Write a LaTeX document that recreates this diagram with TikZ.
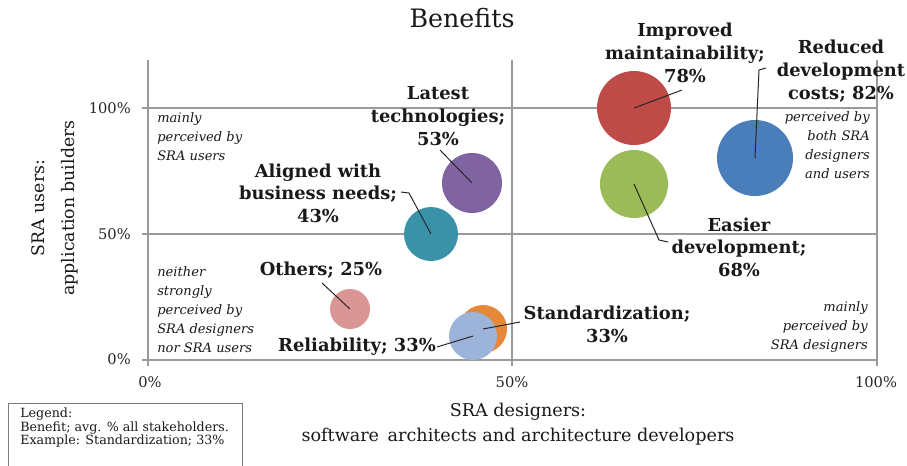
\documentclass[tikz,border=0pt]{standalone}
\usepackage{fontspec}
\setmainfont{DejaVu Serif}
\usetikzlibrary{positioning}

\definecolor{maintred}{HTML}{BE4B48}
\definecolor{easygreen}{HTML}{9BBB59}
\definecolor{costblue}{HTML}{4A7EBB}
\definecolor{techpurple}{HTML}{8064A2}
\definecolor{alignteal}{HTML}{3A92A9}
\definecolor{othpink}{HTML}{D99694}
\definecolor{stdorange}{HTML}{E5883A}
\definecolor{relblue}{HTML}{9DB4DA}
\definecolor{gridgray}{HTML}{9A9A9A}

\begin{document}
\begin{tikzpicture}[x=0.75pt,y=-0.75pt,
    grid/.style={draw=gridgray, line width=0.9pt},
    bubble/.style={circle, inner sep=0pt, draw=none, minimum size=#1*1.5pt},
    leader/.style={draw=black!85, line width=0.75pt},
    lbl/.style={font=\bfseries\fontsize{13.4}{17}\selectfont, align=center, inner sep=0pt, text=black!90},
    note/.style={font=\itshape\fontsize{9.8}{14.25}\selectfont, inner sep=0pt, text=black!90},
    ticklbl/.style={font=\fontsize{11}{13}\selectfont, inner sep=0pt, text=black!85},
    axlbl/.style={font=\fontsize{13.2}{18.75}\selectfont, align=center, inner sep=0pt, text=black!90}]

    \useasboundingbox (0,0) rectangle (907,465);

    % plot frame and quadrants
    \draw[grid] (148,60) -- (148,360);
    \draw[grid] (512,60) -- (512,366);
    \draw[grid] (877,60) -- (877,366);
    \draw[grid] (142,360) -- (877,360);
    \draw[grid] (142,234) -- (877,234);
    \draw[grid] (142,108) -- (877,108);
    \draw[grid] (148,360) -- (148,366);

    % bubbles
    \node[bubble=37, fill=maintred] (maint) at (634,108) {};
    \node[bubble=34, fill=easygreen] (easy) at (634,184) {};
    \node[bubble=38, fill=costblue] (cost) at (755,158) {};
    \node[bubble=30, fill=techpurple] (tech) at (472,183) {};
    \node[bubble=27, fill=alignteal] (align) at (431,234) {};
    \node[bubble=20, fill=othpink] (oth) at (350,309) {};
    \node[bubble=24, fill=stdorange] (std) at (483,329) {};
    \node[bubble=24, fill=relblue] (rel) at (473,336) {};

    % labels
    \node[font=\fontsize{19}{21}\selectfont, text=black!90] (title) at (462,18) {Benefits};
    \node[lbl] (maintlbl) at (685,53) {Improved\\maintainability;\\78\%};
    \node[lbl] (costlbl) at (841,71) {Reduced\\development\\costs; 82\%};
    \node[lbl] (techlbl) at (438,116) {Latest\\technologies;\\53\%};
    \node[lbl] (alignlbl) at (318,193) {Aligned with\\business needs;\\43\%};
    \node[lbl] (easylbl) at (739,247) {Easier\\development;\\68\%};
    \node[lbl] (othlbl) at (321,270) {Others; 25\%};
    \node[lbl] (stdlbl) at (607,324) {Standardization;\\33\%};
    \node[lbl] (rellbl) at (357,347) {Reliability; 33\%};

    % leader lines
    \coordinate (maintend) at (682,90);
    \coordinate (costend) at (766,68);
    \coordinate (costbend) at (759,70);
    \coordinate (techend) at (440,150);
    \coordinate (alignend) at (401,192);
    \coordinate (alignbend) at (409,193);
    \coordinate (easyend) at (668,242);
    \coordinate (easybend) at (659,240);
    \coordinate (othend) at (322,283);
    \coordinate (stdend) at (520,322);
    \coordinate (relend) at (437,347);
    \draw[leader] (maintend) -- (maint.center);
    \draw[leader] (costend) -- (costbend) -- (cost.center);
    \draw[leader] (techend) -- (tech.center);
    \draw[leader] (alignend) -- (alignbend) -- (align.center);
    \draw[leader] (easyend) -- (easybend) -- (easy.center);
    \draw[leader] (othend) -- (oth.center);
    \draw[leader] (stdend) -- (std.center);
    \draw[leader] (relend) -- (rel.center);

    % quadrant notes
    \node[note, anchor=north west, align=left] (noteusers) at (157,112) {mainly\\perceived by\\SRA users};
    \node[note, anchor=north west, align=left] (noteneither) at (157,266) {neither\\strongly\\perceived by\\SRA designers\\nor SRA users};
    \node[note, anchor=north east, align=right] (noteboth) at (870,111) {perceived by\\both SRA\\designers\\and users};
    \node[note, anchor=north east, align=right] (notedesign) at (868,301) {mainly\\perceived by\\SRA designers};

    % axes
    \node[ticklbl] (x0) at (150,382) {0\%};
    \node[ticklbl] (x50) at (512,382) {50\%};
    \node[ticklbl] (x100) at (876,382) {100\%};
    \node[ticklbl, anchor=east] (y100) at (131,108) {100\%};
    \node[ticklbl, anchor=east] (y50) at (131,234) {50\%};
    \node[ticklbl, anchor=east] (y0) at (131,359) {0\%};
    \node[axlbl] (xlbl) at (518,424) {SRA designers:\\software\, architects and architecture developers};
    \node[axlbl, rotate=90, font=\fontsize{13}{22.5}\selectfont] (ylbl) at (55,208) {SRA users:\\application builders};

    % legend
    \draw[gridgray!80!black, line width=0.6pt] (8,470) |- (242,403) -- (242,470);
    \node[anchor=north west, align=left, inner sep=0pt, font=\fontsize{9.5}{9.9}\selectfont, text=black!90] (legend) at (20,408) {Legend:\\Benefit; avg. \% all stakeholders.\\Example: Standardization; 33\%};
\end{tikzpicture}
\end{document}
